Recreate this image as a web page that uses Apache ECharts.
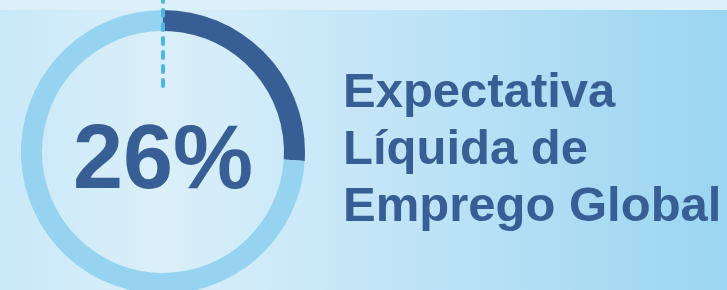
<!DOCTYPE html>
<html>
<head>
<meta charset="utf-8">
<script src="https://cdn.jsdelivr.net/npm/echarts@6/dist/echarts.min.js"></script>
<style>
html,body{margin:0;padding:0;background:#c9e8f8;}
#chart{width:727px;height:290px;}
</style>
</head>
<body>
<div id="chart"></div>
<script>
const categories = ['Expectativa Líquida de Emprego Global', 'Restante'];
const values = [26, 74];
const centerLabel = '26%';
const titleLines = ['Expectativa', 'Líquida de', 'Emprego Global'];

const cx = 163, cy = 152;
const chart = echarts.init(document.getElementById('chart'), null, {renderer: 'canvas'});
chart.setOption({
  animation: false,
  graphic: [
    {type: 'rect', z: -10, silent: true, shape: {x: 0, y: 0, width: 727, height: 290},
      style: {fill: new echarts.graphic.LinearGradient(0, 0, 1, 0, [
        {offset: 0, color: '#c9e8f8'},
        {offset: 0.22, color: '#daeff9'},
        {offset: 0.44, color: '#c9e8f8'},
        {offset: 1, color: '#9bd5f1'}
      ])}},
    {type: 'rect', z: -9, silent: true, shape: {x: 0, y: 0, width: 727, height: 10},
      style: {fill: '#dcf0fa'}},
    {type: 'line', z: 10, silent: true, shape: {x1: cx, y1: -4, x2: cx, y2: 88},
      style: {stroke: '#4cb6e8', lineWidth: 4, lineDash: [6, 8], lineCap: 'round'}}
  ],
  title: {
    text: titleLines.join('\n'),
    left: 338, top: 60,
    textStyle: {fontFamily: 'Liberation Sans, Arial, sans-serif', fontWeight: 'bold', fontSize: 49, lineHeight: 57, color: '#375f96'}
  },
  series: [{
    type: 'pie',
    center: [cx, cy],
    radius: [121, 142],
    startAngle: 90,
    clockwise: true,
    silent: true,
    labelLine: {show: false},
    data: categories.map((c, i) => ({
      name: c, value: values[i],
      itemStyle: {color: i === 0 ? '#375f96' : '#95d3f1'},
      label: i === 0 ? {show: true, position: 'center', formatter: centerLabel,
        fontFamily: 'Liberation Sans, Arial, sans-serif', fontWeight: 'bold', fontSize: 90, color: '#375f96', offset: [0, 11]} : {show: false}
    }))
  }]
});
</script>
</body>
</html>
